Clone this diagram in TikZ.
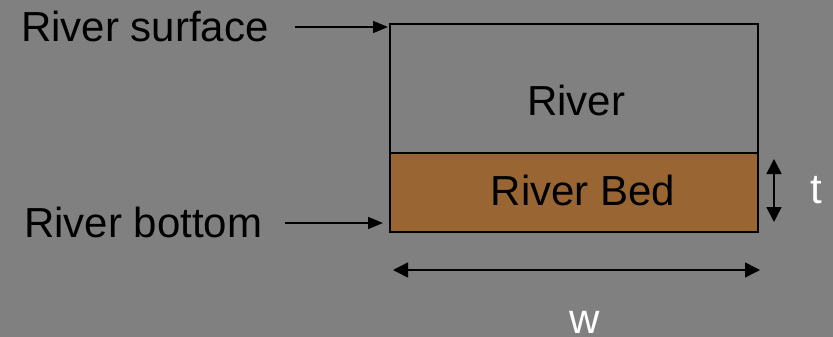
\documentclass[tikz,border=0pt]{standalone}
\usepackage{fontspec}
\setmainfont{Liberation Sans}
\usetikzlibrary{arrows.meta}
\definecolor{bg}{HTML}{808080}
\definecolor{bed}{HTML}{996633}
\begin{document}
\begin{tikzpicture}[x=1pt,y=-1pt,
  lbl/.style={font=\fontsize{42}{48}\selectfont, inner sep=0pt, text=black},
  wlbl/.style={font=\fontsize{42}{48}\selectfont, inner sep=0pt, text=white},
  arr/.style={line width=1.5pt, -{Triangle[length=15pt,width=12pt]}},
  darr/.style={line width=1.5pt, {Triangle[length=15pt,width=15pt]}-{Triangle[length=15pt,width=15pt]}}]
\fill[bg] (0,0) rectangle (833,337);
\useasboundingbox (0,0) rectangle (833,337);
\draw[line width=2pt, fill=bg] (390,24) rectangle (758,153);
\draw[line width=2pt, fill=bed] (390,153) rectangle (758,232);
\node[lbl] (river) at (576,100) {River};
\node[lbl] (bed) at (583,190) {River Bed};
\node[lbl, anchor=west] (surf) at (21,26) {River surface};
\node[lbl, anchor=west] (bot) at (24,222) {River bottom};
\coordinate (surfend) at (388,27);
\coordinate (surfstart) at (295,27);
\coordinate (botend) at (383,223);
\coordinate (botstart) at (285,223);
\draw[arr] (surfstart) -- (surfend);
\draw[arr] (botstart) -- (botend);
\coordinate (ttop) at (774,159);
\coordinate (tbot) at (774,222);
\draw[darr] (ttop) -- (tbot);
\node[wlbl] (t) at (816,190) {t};
\coordinate (wl) at (393,270);
\coordinate (wr) at (760,270);
\draw[darr] (wl) -- (wr);
\node[wlbl] (w) at (585,322) {w};
\end{tikzpicture}
\end{document}
